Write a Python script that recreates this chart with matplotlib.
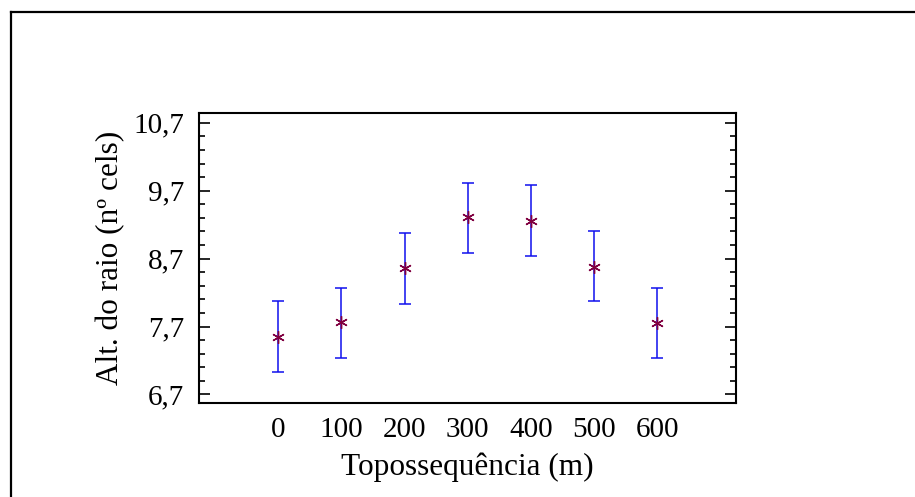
import numpy as np
import matplotlib.pyplot as plt
from matplotlib.lines import Line2D

# --- data ---
distance = [0, 100, 200, 300, 400, 500, 600]
mean_height = [7.55, 7.77, 8.56, 9.31, 9.25, 8.58, 7.75]
upper = [8.07, 8.27, 9.08, 9.82, 9.78, 9.11, 8.27]
lower = [7.03, 7.24, 8.03, 8.78, 8.74, 8.07, 7.23]
y_ticks = [6.7, 7.7, 8.7, 9.7, 10.7]
y_tick_labels = ["6,7", "7,7", "8,7", "9,7", "10,7"]

plt.rcParams['font.family'] = ['Liberation Serif', 'DejaVu Serif']

fig = plt.figure(figsize=(9.15, 4.97), dpi=100)

# outer frame (only left and top edges visible)
fig.add_artist(Line2D([11 / 915, 11 / 915], [0, 1 - 12 / 497], transform=fig.transFigure,
                      color='black', lw=1.6))
fig.add_artist(Line2D([11 / 915, 1], [1 - 12 / 497, 1 - 12 / 497], transform=fig.transFigure,
                      color='black', lw=1.6))

ax = fig.add_axes([199.3 / 915, 1 - 403.3 / 497, (736 - 199.3) / 915, (403.3 - 113.3) / 497])

m = np.array(mean_height)
yerr = [m - np.array(lower), np.array(upper) - m]
ax.errorbar(distance, mean_height, yerr=yerr, fmt='none', ecolor='#1010ee',
            elinewidth=1.1, capsize=4.3, capthick=1.1)
ax.plot(distance, mean_height, linestyle='none', marker=(6, 2, 0), markersize=9,
        markeredgewidth=1.0, color='#800040')

ax.set_xlim(-125, 725)
ax.set_ylim(6.57, 10.84)
ax.set_xticks(distance)
ax.set_xticklabels([str(d) for d in distance])
ax.set_yticks(y_ticks)
ax.set_yticklabels(y_tick_labels)
ax.set_yticks(np.arange(6.7, 10.75, 0.2), minor=True)

ax.tick_params(axis='x', length=0, pad=10, labelsize=21)
ax.tick_params(axis='y', which='major', direction='in', length=8, width=1.2,
               right=True, pad=11, labelsize=21)
ax.tick_params(axis='y', which='minor', direction='in', length=4.5, width=1.2, right=True)

for s in ax.spines.values():
    s.set_linewidth(1.5)

ax.set_xlabel('Topossequência (m)', fontsize=22.5, labelpad=7)
ax.set_ylabel('Alt. do raio (nº cels)', fontsize=22.5, labelpad=6)

fig.savefig('out.png', dpi=100)
